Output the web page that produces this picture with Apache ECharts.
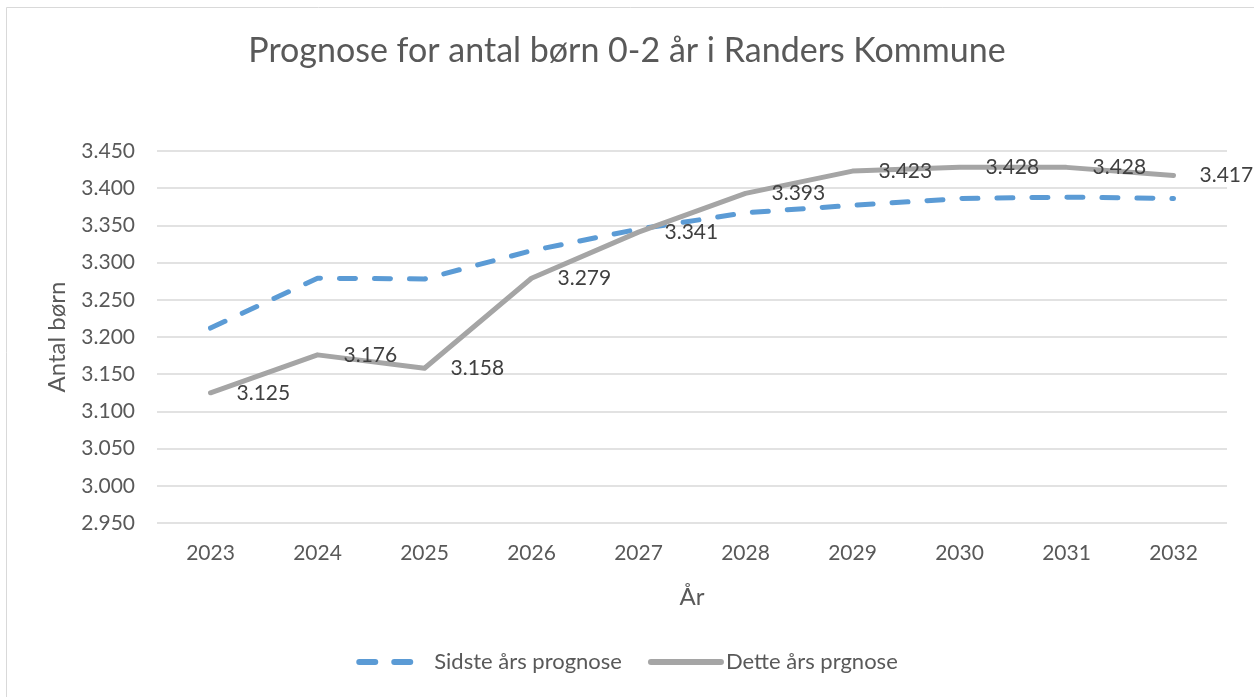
<!DOCTYPE html>
<html>
<head>
<meta charset="utf-8">
<script src="https://cdn.jsdelivr.net/npm/echarts@6/dist/echarts.min.js"></script>
<style>
  html, body { margin: 0; padding: 0; background: #fff; }
  #chart { width: 1254px; height: 697px; }
</style>
</head>
<body>
<div id="chart"></div>
<script>
// data
var years = ['2023', '2024', '2025', '2026', '2027', '2028', '2029', '2030', '2031', '2032'];
var sidsteAar = [3212, 3279, 3278, 3316, 3345, 3367, 3377, 3386, 3388, 3386];
var detteAar = [3125, 3176, 3158, 3279, 3341, 3393, 3423, 3428, 3428, 3417];
var yMin = 2950, yMax = 3450, yStep = 50;

var fontFam = 'Lato, "Open Sans", sans-serif';

// dansk tusindtalsseparator: 3125 -> 3.125
function dk(v) {
  return String(v).replace(/\B(?=(\d{3})+(?!\d))/g, '.');
}

var myChart = echarts.init(document.getElementById('chart'));

var option = {
  backgroundColor: '#fff',
  textStyle: { fontFamily: fontFam },
  graphic: [{
    type: 'rect',
    silent: true,
    shape: { x: 6.5, y: 7.5, width: 1260, height: 700 },
    style: { fill: 'none', stroke: '#d9d9d9', lineWidth: 1 }
  }],
  title: {
    text: 'Prognose for antal børn 0-2 år i Randers Kommune',
    left: 'center',
    top: 29,
    textStyle: { fontFamily: fontFam, fontSize: 34, fontWeight: 'normal', color: '#595959' }
  },
  legend: {
    bottom: 19,
    left: 'center',
    itemWidth: 70,
    itemHeight: 12,
    itemGap: 26,
    textStyle: { fontFamily: fontFam, fontSize: 22, color: '#595959' },
    data: [
      { name: 'Sidste års prognose', itemStyle: { opacity: 0 }, lineStyle: { width: 6 } },
      { name: 'Dette års prgnose', itemStyle: { opacity: 0 }, lineStyle: { width: 6 } }
    ]
  },
  grid: { left: 157, right: 27, top: 151, bottom: 174 },
  xAxis: {
    type: 'category',
    data: years,
    name: 'År',
    nameLocation: 'middle',
    nameGap: 62,
    nameTextStyle: { fontFamily: fontFam, fontSize: 24, color: '#595959' },
    axisLine: { show: false },
    axisTick: { show: false },
    axisLabel: { fontFamily: fontFam, fontSize: 21, color: '#595959', margin: 20 }
  },
  yAxis: {
    type: 'value',
    min: yMin,
    max: yMax,
    interval: yStep,
    name: 'Antal børn',
    nameLocation: 'middle',
    nameGap: 88,
    nameRotate: 90,
    nameTextStyle: { fontFamily: fontFam, fontSize: 24, color: '#595959' },
    axisLine: { show: false },
    axisTick: { show: false },
    axisLabel: { fontFamily: fontFam, fontSize: 21, color: '#595959', margin: 22, formatter: dk },
    splitLine: { lineStyle: { color: '#d9d9d9', width: 1.5 } }
  },
  series: [
    {
      name: 'Sidste års prognose',
      type: 'line',
      data: sidsteAar,
      symbol: 'none',
      color: '#5b9bd5',
      lineStyle: { color: '#5b9bd5', width: 5, type: [16, 19], cap: 'round' }
    },
    {
      name: 'Dette års prgnose',
      type: 'line',
      data: detteAar,
      symbol: 'circle',
      symbolSize: 2,
      color: '#a5a5a5',
      itemStyle: { color: '#a5a5a5' },
      lineStyle: { color: '#a5a5a5', width: 5, cap: 'round', join: 'round' },
      label: {
        show: true,
        position: 'right',
        distance: 25,
        fontFamily: fontFam,
        fontSize: 21,
        color: '#404040',
        formatter: function (p) { return dk(p.value); }
      }
    }
  ]
};

myChart.setOption(option);
window.addEventListener('resize', function () {
  myChart.resize();
});
</script>
</body>
</html>
